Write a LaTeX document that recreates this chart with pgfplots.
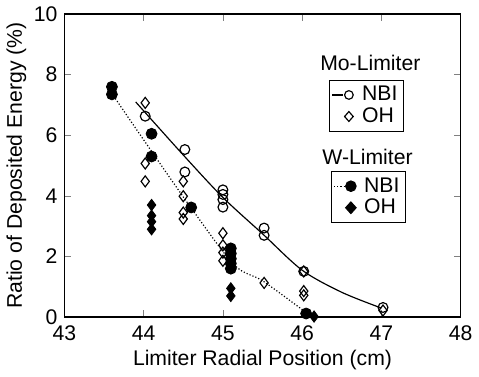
\documentclass[border=0pt]{standalone}
\usepackage{fontspec}
\setmainfont{Liberation Sans}
\usepackage{pgfplots}
\pgfplotsset{compat=1.18}
\begin{document}
\begin{tikzpicture}
\pgfplotsset{
  base/.style={
    scale only axis, width=202pt, height=154.5pt,
    xmin=43, xmax=48, ymin=0, ymax=10,
    clip=false,
    /pgf/number format/assume math mode=true,
    tick label style={font=\fontsize{10.8}{12}\selectfont},
    label style={font=\fontsize{10.8}{12}\selectfont},
    legend style={font=\fontsize{10.8}{12}\selectfont, draw=black, line width=0.5pt,
      inner sep=1pt, row sep=-2pt, legend cell align=left},
  }
}
\begin{axis}[base,
  xtick={43,44,45,46,47,48}, ytick={0,2,4,6,8,10},
  tick align=inside, major tick length=3.5pt,
  xtick pos=both, ytick pos=both,
  axis line style={line width=0.7pt},
  xlabel={Limiter Radial Position (cm)},
  ylabel={Ratio of Deposited Energy (\%)},
  xlabel style={yshift=2pt},
  ylabel style={yshift=-3pt},
  xticklabel style={yshift=-1pt},
  legend style={at={(rel axis cs:0.668,0.783)}, anchor=north west},
]
\addlegendimage{legend image code/.code={
  \draw[black,line width=0.6pt] (0cm,0cm)--(0.2cm,0cm);
  \draw[black,fill=white,line width=0.6pt] (0.3cm,0cm) circle (2.2pt);
  \path (0.3cm+4.5pt,0cm);}}
\addlegendimage{legend image code/.code={
  \draw[black,fill=white,line width=0.6pt] (0.3cm,2.5pt)--(0.3cm+2.2pt,0pt)--(0.3cm,-2.5pt)--(0.3cm-2.2pt,0pt)--cycle;
  \path (0.3cm+4.5pt,0cm);}}
% Mo NBI fit
\addplot[black, line width=0.6pt, smooth, no marks, forget plot] coordinates {
 (43.9,7.1) (44.5,5.35) (45,3.95) (45.5,2.75) (46,1.55) (46.5,0.82) (47,0.3)};
% Mo NBI points
\addplot[black, line width=0.6pt, only marks, mark=o, mark size=2.5pt, mark options={fill=white, line width=0.6pt}, forget plot] coordinates {
 (44.02,6.63) (44.52,5.53) (44.52,4.79) (45.0,4.2) (45.0,4.05) (45.0,3.88) (45.0,3.63)
 (45.52,2.94) (45.52,2.70) (46.02,1.51) (47.02,0.32)};
% Mo OH
\addplot[black, only marks, mark=diamond, mark size=2.8pt, mark options={fill=white, line width=0.6pt}, forget plot] coordinates {
 (44.02,7.07) (44.02,5.07) (44.02,4.48)
 (44.5,4.48) (44.5,3.99) (44.5,3.45) (44.5,3.24)
 (45.0,2.77) (45.0,2.37) (45.0,2.13) (45.0,1.86)
 (45.52,1.13) (46.02,1.51) (46.02,0.86) (46.02,0.72) (47.02,0.22)};
\legend{{NBI},{OH}}
\node[font=\fontsize{10.8}{12}\selectfont] at (rel axis cs:0.772,0.838) {Mo-Limiter};
\node[font=\fontsize{10.8}{12}\selectfont] at (rel axis cs:0.765,0.527) {W-Limiter};
\end{axis}
\begin{axis}[base, hide axis,
  legend style={at={(rel axis cs:0.673,0.482)}, anchor=north west},
]
\addlegendimage{legend image code/.code={
  \draw[black,line width=0.6pt,densely dotted] (0cm,0cm)--(0.2cm,0cm);
  \fill[black] (0.3cm,0cm) circle (2.7pt);
  \path (0.3cm+4.5pt,0cm);}}
\addlegendimage{legend image code/.code={
  \fill[black] (0.3cm,3pt)--(0.3cm+2.7pt,0pt)--(0.3cm,-3pt)--(0.3cm-2.7pt,0pt)--cycle;
  \path (0.3cm+4.5pt,0cm);}}
\addplot[black, line width=0.6pt, densely dotted, smooth, forget plot] coordinates {
 (43.62,7.3) (44.0,5.85) (44.6,3.6) (45.14,1.73) (45.5,1.2) (46.0,0.25) (46.1,0.05)};
\addplot[black, only marks, mark=*, mark size=2.8pt, forget plot] coordinates {
 (43.6,7.6) (43.6,7.35) (44.1,6.05) (44.1,5.3) (44.6,3.62)
 (45.1,2.27) (45.1,2.1) (45.1,1.93) (45.1,1.77) (45.1,1.6) (46.05,0.12)};
\addplot[black, only marks, mark=diamond*, mark size=2.9pt, forget plot] coordinates {
 (44.1,3.7) (44.1,3.35) (44.1,3.15) (44.1,2.9) (45.1,0.95) (45.1,0.7) (46.15,0.02)};
\legend{{NBI},{OH}}
\end{axis}
\end{tikzpicture}
\end{document}
